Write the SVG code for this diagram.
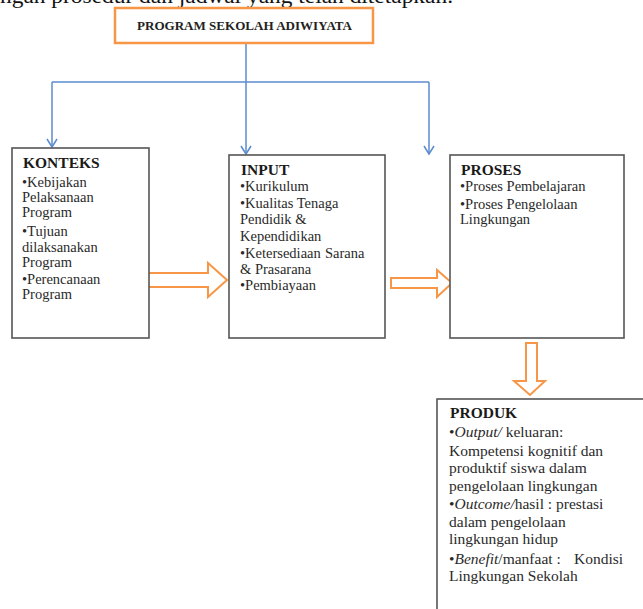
<svg xmlns="http://www.w3.org/2000/svg" width="643" height="609" viewBox="0 0 643 609">
<style>
.box{fill:#fff;stroke:#555;stroke-width:1.6}
.t{font-family:"Liberation Serif","Times New Roman",serif;font-size:14.5px;fill:#2a2a2a}
.h{font-family:"Liberation Serif","Times New Roman",serif;font-size:15.5px;font-weight:bold;fill:#1a1a1a}
.p{font-family:"Liberation Serif","Times New Roman",serif;font-size:15.5px;fill:#2a2a2a}
.i{font-style:italic}
.conn{fill:none;stroke:#5b8bcf;stroke-width:1.5}
.oarrow{fill:#fff;stroke:#f79646;stroke-width:2;stroke-linejoin:miter}
</style>
<defs>
<marker id="ah" markerWidth="12" markerHeight="12" refX="10" refY="6" orient="auto" markerUnits="userSpaceOnUse" viewBox="0 0 12 12">
<path d="M2,1 L10,6 L2,11" fill="none" stroke="#5b8bcf" stroke-width="1.5"/>
</marker>
</defs>
<rect width="643" height="609" fill="#fff"/>
<text x="0" y="3" font-family="Liberation Serif, serif" font-size="21" fill="#111" textLength="453" lengthAdjust="spacingAndGlyphs">ngan prosedur dan jadwal yang telah ditetapkan.</text>

<g id="connectors">
<path class="conn" d="M246,43 V154" marker-end="url(#ah)"/>
<path class="conn" d="M52,82 H429"/>
<path class="conn" d="M52,82 V147" marker-end="url(#ah)"/>
<path class="conn" d="M429,82 V154" marker-end="url(#ah)"/>
<path class="oarrow" d="M148,273 H208 V263 L227,280 L208,297 V287 H148 Z"/>
<path class="oarrow" d="M391,278 H437 V270 L452,283 L437,297 V288 H391 Z"/>
<path class="oarrow" d="M526,343 H537 V381 H545 L530,395 L514,381 H526 Z"/>
</g>

<g id="program">
<rect x="115" y="8" width="258" height="35" fill="#fff" stroke="#f79646" stroke-width="2.5"/>
<text x="244.5" y="29.5" text-anchor="middle" font-family="Liberation Serif, serif" font-size="12" font-weight="bold" fill="#222" textLength="215" lengthAdjust="spacingAndGlyphs">PROGRAM SEKOLAH ADIWIYATA</text>
</g>

<g id="konteks">
<rect class="box" x="12" y="148" width="137" height="190"/>
<text class="h" x="23" y="168">KONTEKS</text>
<text class="t" x="22" y="187">•Kebijakan</text>
<text class="t" x="22" y="202">Pelaksanaan</text>
<text class="t" x="22" y="217">Program</text>
<text class="t" x="22" y="236">•Tujuan</text>
<text class="t" x="22" y="252">dilaksanakan</text>
<text class="t" x="22" y="267">Program</text>
<text class="t" x="22" y="284">•Perencanaan</text>
<text class="t" x="22" y="299">Program</text>
</g>

<g id="input">
<rect class="box" x="229" y="155" width="156" height="183"/>
<text class="h" x="241" y="175">INPUT</text>
<text class="t" x="240" y="191">•Kurikulum</text>
<text class="t" x="240" y="208">•Kualitas Tenaga</text>
<text class="t" x="240" y="224">Pendidik &amp;</text>
<text class="t" x="240" y="241">Kependidikan</text>
<text class="t" x="240" y="258">•Ketersediaan<tspan x="325">Sarana</tspan></text>
<text class="t" x="240" y="274">&amp; Prasarana</text>
<text class="t" x="240" y="290">•Pembiayaan</text>
</g>

<g id="proses">
<rect class="box" x="450" y="155" width="174" height="183"/>
<text class="h" x="461" y="175">PROSES</text>
<text class="t" x="460" y="191">•Proses Pembelajaran</text>
<text class="t" x="460" y="209">•Proses Pengelolaan</text>
<text class="t" x="460" y="224">Lingkungan</text>
</g>

<g id="produk">
<rect class="box" x="437" y="399" width="230" height="240"/>
<text class="h" x="450" y="418">PRODUK</text>
<text class="p" x="449" y="437">•<tspan class="i">Output/</tspan> keluaran:</text>
<text class="p" x="449" y="456">Kompetensi kognitif dan</text>
<text class="p" x="449" y="473">produktif siswa dalam</text>
<text class="p" x="449" y="491">pengelolaan lingkungan</text>
<text class="p" x="449" y="509">•<tspan class="i">Outcome/</tspan>hasil : prestasi</text>
<text class="p" x="449" y="527">dalam pengelolaan</text>
<text class="p" x="449" y="544">lingkungan hidup</text>
<text class="p" x="449" y="564">•<tspan class="i">Benefit</tspan>/manfaat :<tspan x="574">Kondisi</tspan></text>
<text class="p" x="449" y="581">Lingkungan Sekolah</text>
</g>
</svg>
